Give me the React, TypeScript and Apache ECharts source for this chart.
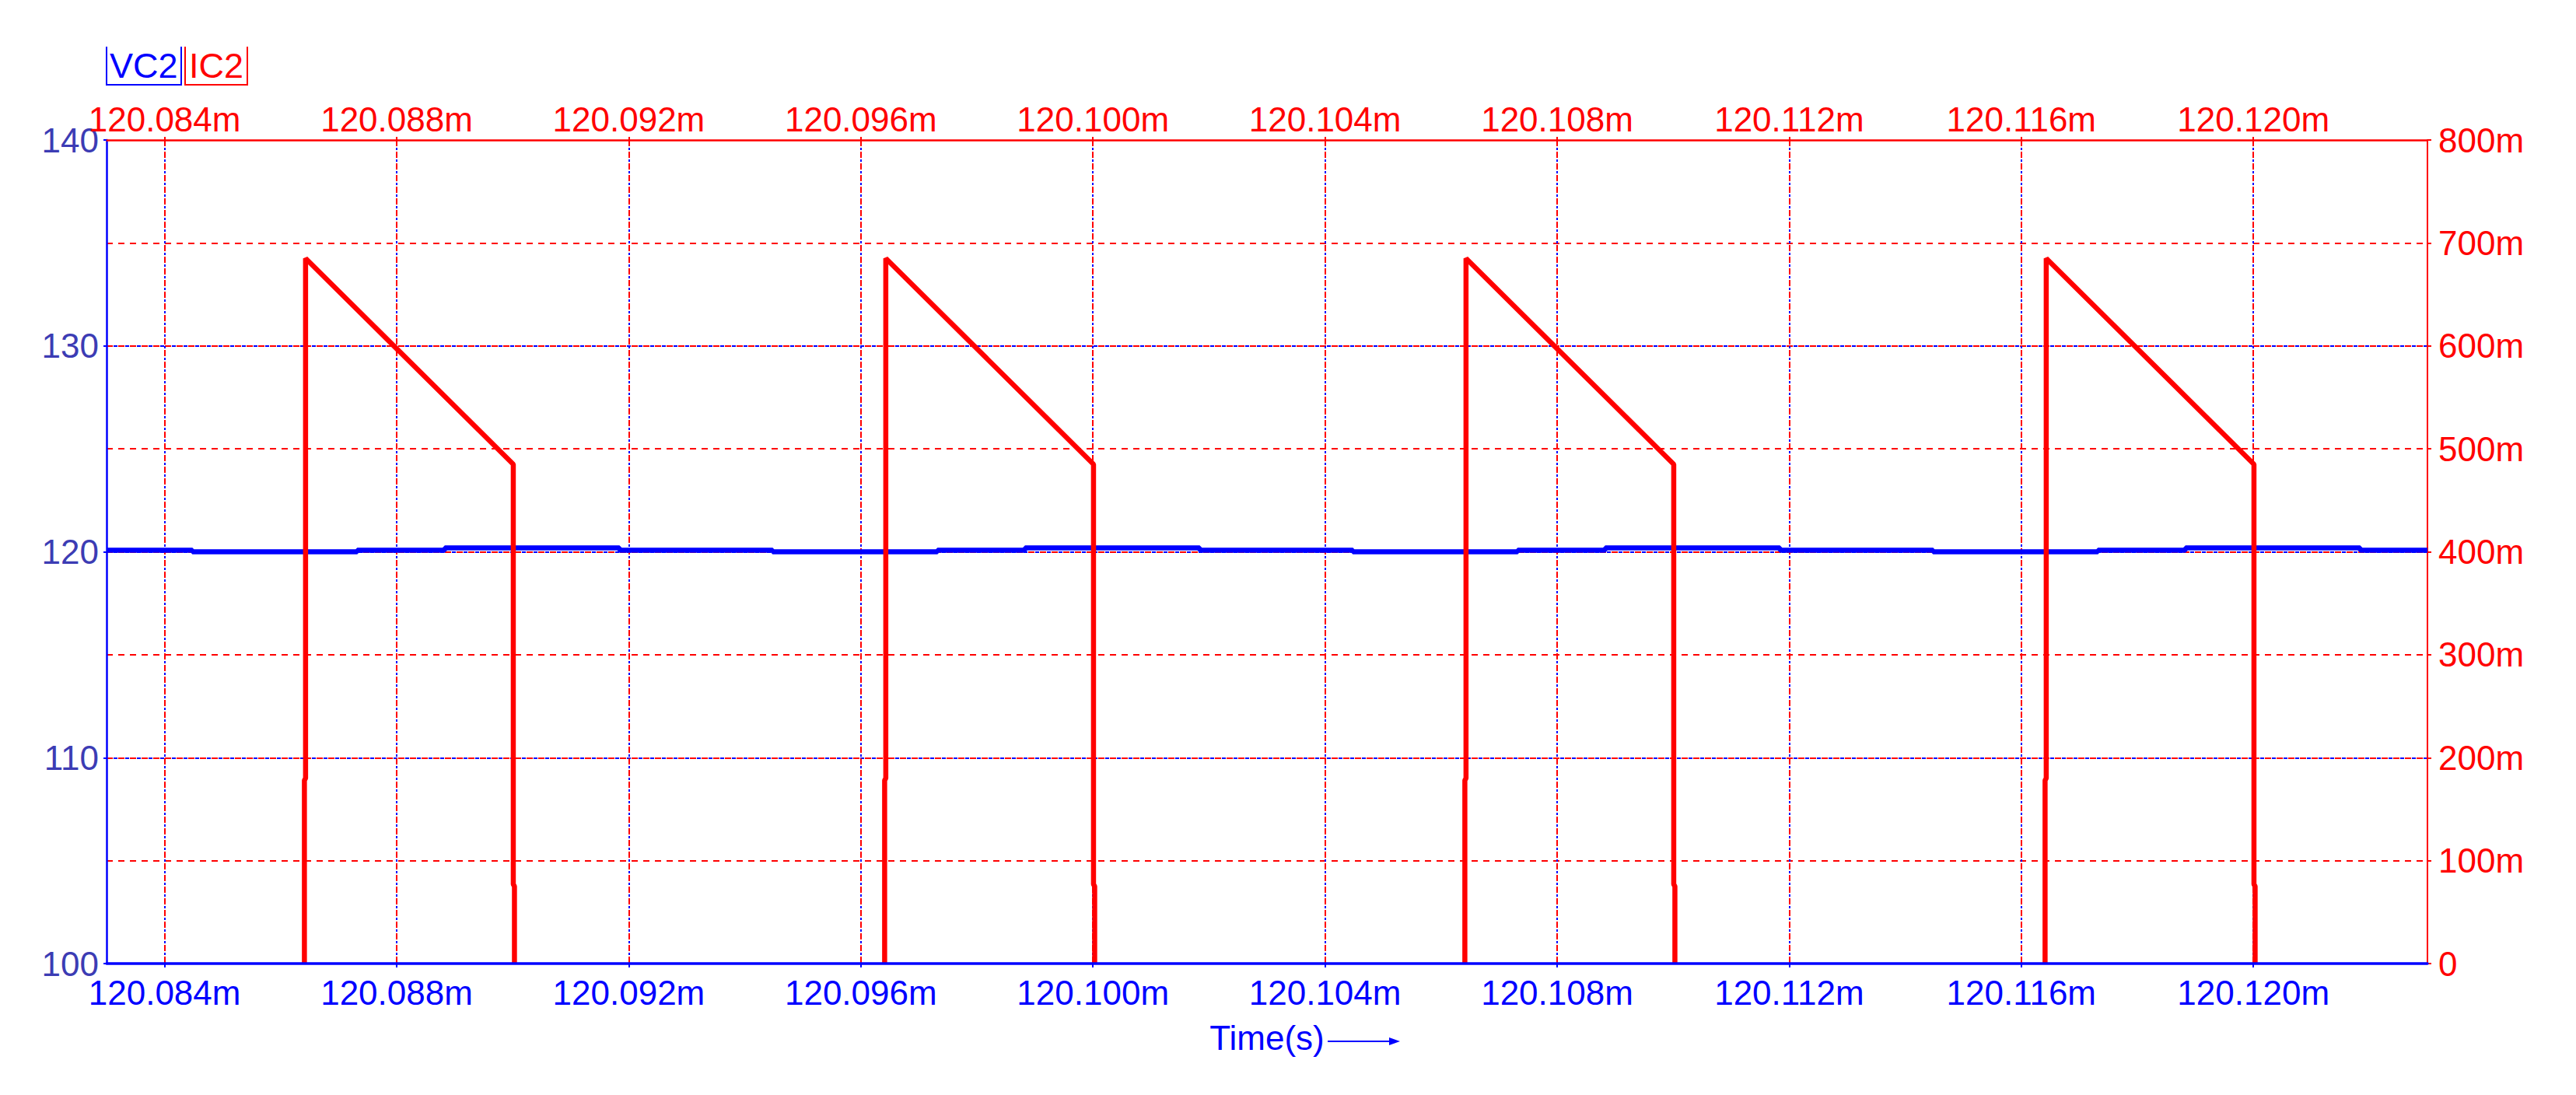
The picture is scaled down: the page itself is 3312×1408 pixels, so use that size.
import React, { useEffect, useRef } from 'react';
import * as echarts from 'echarts';

// ---------- data ----------
const xMin = 120.083; // ms
const xMax = 120.123; // ms
const xTicks = [120.084, 120.088, 120.092, 120.096, 120.1, 120.104, 120.108, 120.112, 120.116, 120.12];

const vMin = 100;
const vMax = 140;
const vInterval = 10;

const iMin = 0;
const iMax = 0.8;
const iInterval = 0.1;

// VC2 (V) – stepped ripple, value holds from each time until the next
const vcTime = [
  120.083, 120.08448, 120.08732, 120.08883, 120.09184,
  120.09448, 120.09732, 120.09883, 120.10184,
  120.10448, 120.10732, 120.10883, 120.11184,
  120.11448, 120.11732, 120.11883, 120.12184, 120.123,
];
const vcValue = [
  120.08, 120.0, 120.08, 120.19, 120.08,
  120.0, 120.08, 120.19, 120.08,
  120.0, 120.08, 120.19, 120.08,
  120.0, 120.08, 120.19, 120.08, 120.08,
];

// IC2 (A)
const icTime = [
  120.083,
  120.08641, 120.08641, 120.08643, 120.08643, 120.09001, 120.09001, 120.09003, 120.09003,
  120.09641, 120.09641, 120.09643, 120.09643, 120.10001, 120.10001, 120.10003, 120.10003,
  120.10641, 120.10641, 120.10643, 120.10643, 120.11001, 120.11001, 120.11003, 120.11003,
  120.11641, 120.11641, 120.11643, 120.11643, 120.12001, 120.12001, 120.12003, 120.12003,
  120.123,
];
const icValue = [
  0,
  0, 0.178, 0.18, 0.685, 0.485, 0.077, 0.075, 0,
  0, 0.178, 0.18, 0.685, 0.485, 0.077, 0.075, 0,
  0, 0.178, 0.18, 0.685, 0.485, 0.077, 0.075, 0,
  0, 0.178, 0.18, 0.685, 0.485, 0.077, 0.075, 0,
  0,
];

const FONT = '"Liberation Sans", Arial, sans-serif';
const BLUE = '#0000ff';
const RED = '#ff0000';

const fmtTime = (v: number) => v.toFixed(3) + 'm';
const fmtAmp = (v: number) => (Math.abs(v) < 1e-9 ? '0' : Math.round(v * 1000) + 'm');

// The zero-current stretches lie on the bottom axis and are hidden by it in the
// reference, so the line is broken there (the axis line shows instead).
function buildIcData() {
  const out: any[] = [];
  for (let i = 0; i < icTime.length; i++) {
    out.push([icTime[i], icValue[i]]);
    if (i < icTime.length - 1 && icValue[i] === 0 && icValue[i + 1] === 0) {
      out.push([(icTime[i] + icTime[i + 1]) / 2, '-']);
    }
  }
  return out;
}

export default function App() {
  const ref = useRef<HTMLDivElement>(null);

  useEffect(() => {
    if (!ref.current) return;
    const chart = echarts.init(ref.current, undefined, { renderer: 'svg' });

    const option: any = {
      animation: false,
      backgroundColor: '#ffffff',
      textStyle: { fontFamily: FONT },
      grid: { left: 137, top: 180, right: 191, bottom: 169, containLabel: false, outerBoundsMode: 'none' },
      xAxis: [
        {
          type: 'value',
          position: 'bottom',
          min: xMin,
          max: xMax,
          axisLine: { show: false, onZero: false },
          axisTick: { show: true, customValues: xTicks, length: 5, lineStyle: { color: BLUE, width: 2 } },
          axisLabel: { customValues: xTicks, formatter: fmtTime, color: BLUE, fontSize: 44, fontFamily: FONT, margin: 15 },
          splitLine: { show: true, lineStyle: { color: BLUE, width: 2, type: [3, 12], dashOffset: 5 } },
          name: 'Time(s)',
          nameLocation: 'middle',
          nameGap: 73,
          nameTextStyle: { color: BLUE, fontSize: 44, fontFamily: FONT },
        },
        {
          type: 'value',
          position: 'top',
          min: xMin,
          max: xMax,
          axisLine: { show: true, onZero: false, lineStyle: { color: RED, width: 2.5 } },
          axisTick: { show: true, customValues: xTicks, length: 4, lineStyle: { color: RED, width: 2 } },
          axisLabel: { customValues: xTicks, formatter: fmtTime, color: RED, fontSize: 44, fontFamily: FONT, margin: 5 },
          splitLine: { show: true, lineStyle: { color: RED, width: 2, type: [8, 7] } },
        },
        {
          type: 'value',
          position: 'bottom',
          min: xMin,
          max: xMax,
          z: 10,
          axisLine: { show: true, onZero: false, lineStyle: { color: BLUE, width: 3.5 } },
          axisTick: { show: false },
          axisLabel: { show: false },
          splitLine: { show: false },
        },
      ],
      yAxis: [
        {
          type: 'value',
          position: 'left',
          min: vMin,
          max: vMax,
          interval: vInterval,
          axisLine: { show: true, onZero: false, lineStyle: { color: BLUE, width: 2.5 } },
          axisTick: { show: true, length: 4, lineStyle: { color: BLUE, width: 2 } },
          axisLabel: { color: '#3c3cb4', fontSize: 44, fontFamily: FONT, margin: 10 },
          splitLine: {
            show: true,
            showMinLine: false,
            showMaxLine: false,
            lineStyle: { color: BLUE, width: 2, type: [5, 10], dashOffset: 6 },
          },
        },
        {
          type: 'value',
          position: 'right',
          min: iMin,
          max: iMax,
          interval: iInterval,
          axisLine: { show: true, onZero: false, lineStyle: { color: RED, width: 2 } },
          axisTick: { show: true, length: 5, lineStyle: { color: RED, width: 2 } },
          axisLabel: { color: RED, fontSize: 44, fontFamily: FONT, margin: 14, formatter: fmtAmp, padding: [0, 0, 12, 0] },
          splitLine: {
            show: true,
            showMinLine: false,
            showMaxLine: false,
            lineStyle: { color: RED, width: 2, type: [8, 7] },
          },
        },
      ],
      series: [
        {
          name: 'VC2',
          type: 'line',
          xAxisIndex: 0,
          yAxisIndex: 0,
          step: 'end',
          symbol: 'none',
          showSymbol: false,
          data: vcTime.map((t, i) => [t, vcValue[i]]),
          lineStyle: { color: BLUE, width: 6.5 },
          z: 3,
        },
        {
          name: 'IC2',
          type: 'line',
          xAxisIndex: 0,
          yAxisIndex: 1,
          symbol: 'none',
          showSymbol: false,
          connectNulls: false,
          data: buildIcData(),
          lineStyle: { color: RED, width: 6.5, cap: 'butt' },
          z: 4,
        },
      ],
      graphic: [
        {
          type: 'polyline',
          shape: { points: [[137, 60], [137, 109], [233, 109], [233, 60]] },
          style: { stroke: BLUE, lineWidth: 2, fill: 'none' },
        },
        {
          type: 'text',
          x: 141,
          y: 84,
          style: { text: 'VC2', fill: BLUE, fontSize: 45, fontFamily: FONT, align: 'left', verticalAlign: 'middle' },
        },
        {
          type: 'polyline',
          shape: { points: [[238, 60], [238, 109], [318, 109], [318, 60]] },
          style: { stroke: RED, lineWidth: 2, fill: 'none' },
        },
        {
          type: 'text',
          x: 243,
          y: 84,
          style: { text: 'IC2', fill: RED, fontSize: 45, fontFamily: FONT, align: 'left', verticalAlign: 'middle' },
        },
        {
          type: 'line',
          shape: { x1: 1707, y1: 1339, x2: 1790, y2: 1339 },
          style: { stroke: BLUE, lineWidth: 2 },
        },
        {
          type: 'polygon',
          shape: { points: [[1786, 1334], [1800, 1339], [1786, 1344]] },
          style: { fill: BLUE },
        },
      ],
    };

    chart.setOption(option);
    return () => chart.dispose();
  }, []);

  return (
    <div
      ref={ref}
      style={{ position: 'fixed', left: 0, top: 0, width: 3312, height: 1408, background: '#ffffff' }}
    />
  );
}
